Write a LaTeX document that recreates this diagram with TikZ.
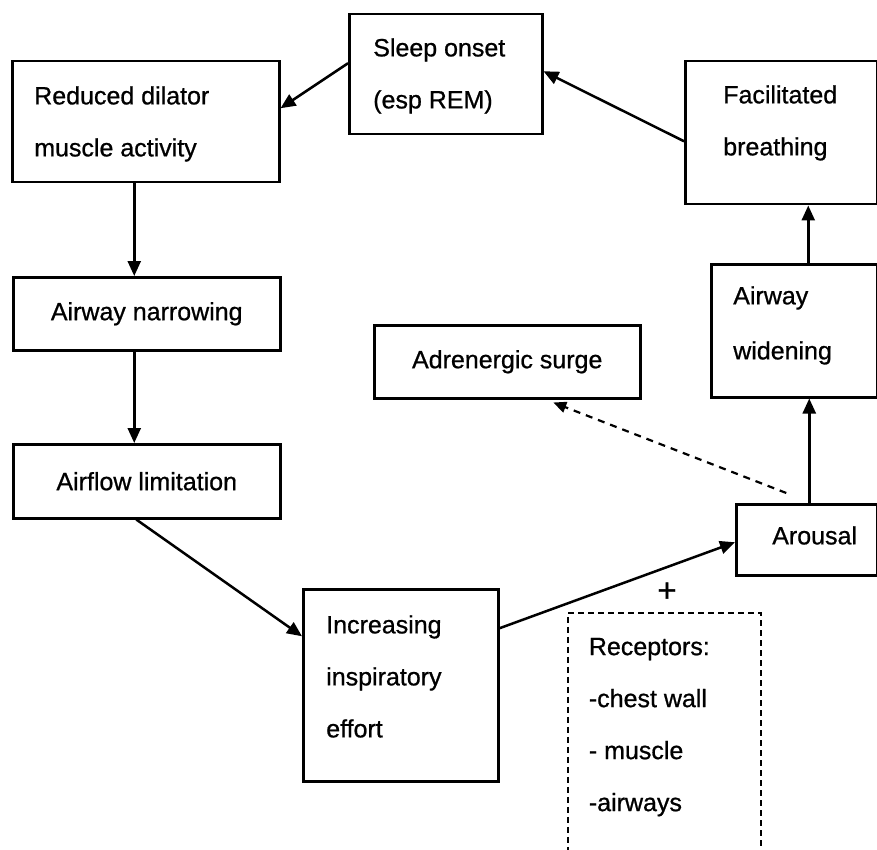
\documentclass[tikz,border=0pt]{standalone}
\usepackage{fontspec}
\setmainfont{Liberation Sans}
\newfontfamily\diafont{Liberation Sans}[FakeBold=0.8]
\usetikzlibrary{arrows.meta,calc}
\newcommand{\bxt}[4]{\parbox[c][#1][t]{#2}{\vspace*{#3}\raggedright #4}}
\begin{document}
\begin{tikzpicture}[x=1pt,y=-1pt,
  every node/.style={font=\diafont\fontsize{25}{52}\selectfont},
  box/.style={draw, line width=2.5pt, rectangle, anchor=north west, inner ysep=0pt},
  cbox/.style={draw, line width=2.5pt, rectangle, anchor=north west, inner sep=0pt},
  arr/.style={line width=2.5pt, -{Triangle[length=15pt,width=13pt]}},
  darr/.style={line width=2.2pt, dash pattern=on 7pt off 6pt, -{Triangle[length=13pt,width=11pt]}},
  dbox/.style={draw, line width=1.8pt, dash pattern=on 6pt off 4pt, rectangle, anchor=north west, inner ysep=0pt}
]
\useasboundingbox (0,0) rectangle (877,850);

% boxes
\node[box, minimum width=193pt, minimum height=120pt, inner xsep=24pt] (sleep) at (348,13)
  {\bxt{120pt}{145pt}{24pt}{Sleep onset\\(esp REM)}};
\node[box, minimum width=267pt, minimum height=121pt, inner xsep=22pt] (reduced) at (11,60)
  {\bxt{121pt}{223pt}{25pt}{Reduced dilator\\muscle activity}};
\node[box, minimum width=192pt, minimum height=143pt, inner xsep=38pt] (facil) at (684,60)
  {\bxt{143pt}{116pt}{24pt}{Facilitated\\breathing}};
\node[cbox, minimum width=267pt, minimum height=73pt] (narrow) at (12,276) {Airway narrowing};
\node[cbox, minimum width=267pt, minimum height=74pt] (airflow) at (12,443) {Airflow limitation};
\node[box, minimum width=195pt, minimum height=192pt, inner xsep=23pt] (inc) at (302,588)
  {\bxt{192pt}{149pt}{26pt}{Increasing\\inspiratory\\effort}};
\node[cbox, minimum width=266pt, minimum height=73pt] (adren) at (373,324) {Adrenergic surge};
\node[box, minimum width=166pt, minimum height=133pt, inner xsep=22pt] (widen) at (710,263)
  {\bxt{133pt}{122pt}{22pt}{Airway\\[3pt]widening}};
\node[box, minimum width=141pt, minimum height=71pt, inner xsep=36pt] (arousal) at (735,503)
  {\bxt{71pt}{69pt}{22pt}{Arousal}};
\node[dbox, minimum width=193pt, minimum height=270pt, inner xsep=21pt] (rec) at (567,612)
  {\bxt{270pt}{151pt}{25pt}{Receptors:\\-chest wall\\- muscle\\-airways}};
\node[inner sep=0pt, font=\diafont\fontsize{33}{40}\selectfont] (plus) at (667,592) {+};

% connectors
\draw[arr] ([yshift=11pt]sleep.west) -- ([yshift=13.5pt]reduced.east);
\draw[arr] ([yshift=-8.5pt]facil.west) -- ([yshift=3pt]sleep.east);
\draw[arr] ([xshift=-11.5pt]reduced.south) -- ([xshift=-11.5pt]reduced.south |- narrow.north);
\draw[arr] ([xshift=-12.5pt]narrow.south) -- ([xshift=-12.5pt]narrow.south |- airflow.north);
\draw[arr] ([xshift=-10.5pt]airflow.south) -- ([yshift=49pt]inc.west);
\draw[arr] ([yshift=57pt]inc.east) -- ([yshift=-2.5pt]arousal.west);
\draw[arr] ([xshift=2.5pt]arousal.north) -- ([xshift=2.5pt]arousal.north |- widen.south);
\draw[arr] ([xshift=14pt]widen.north) -- ([xshift=14pt]widen.north |- facil.south);
\draw[darr] ([xshift=-20.5pt,yshift=10pt]arousal.north) -- ([xshift=46pt,yshift=-3pt]adren.south);
\end{tikzpicture}
\end{document}
